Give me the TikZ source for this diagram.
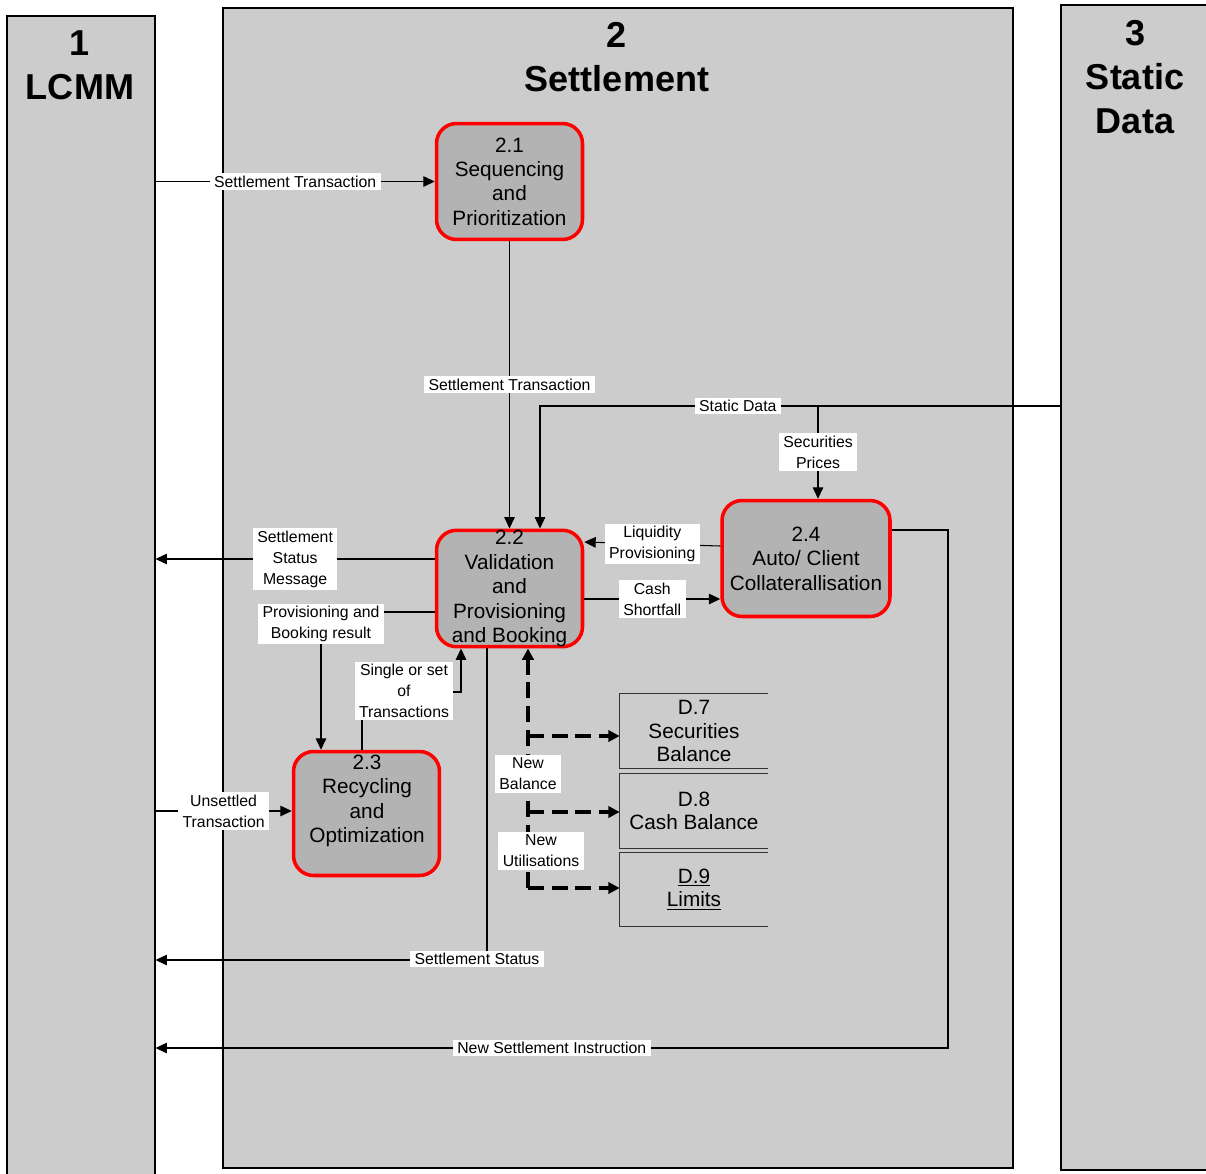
\documentclass[tikz,border=0pt]{standalone}
\usepackage{fontspec}
\setmainfont{Liberation Sans}
\usetikzlibrary{arrows.meta,fit}
\definecolor{lanegray}{HTML}{CCCCCC}
\definecolor{procgray}{HTML}{B3B3B3}
\tikzset{
 lane/.style={draw=black,fill=lanegray,line width=0.6pt,inner sep=0pt},
 lanetitle/.style={font=\fontsize{20.5}{25}\selectfont\bfseries,align=center},
 proc/.style={draw=red,fill=procgray,line width=2pt,rounded corners=0.4cm,inner sep=0pt,
  minimum width=2.92cm,minimum height=2.32cm,align=center,font=\fontsize{11.8}{13.9}\selectfont},
 proctext/.style={align=center,font=\fontsize{11.8}{13.9}\selectfont},
 store/.style={minimum width=2.96cm,minimum height=1.48cm,inner sep=0pt,align=center,font=\fontsize{11.8}{13.4}\selectfont},
 storeline/.style={draw=black!80,line width=0.6pt},
 lbl/.style={fill=white,inner xsep=2.5pt,inner ysep=1.5pt,align=center,font=\fontsize{9}{11.9}\selectfont},
 flow/.style={-{Triangle[length=6.5pt,width=6pt]},line width=0.6pt},
 newbal/.style={-{Triangle[length=6.5pt,width=6.5pt]},line width=2.3pt,dash pattern=on 9pt off 4.5pt}
}
\begin{document}
\begin{tikzpicture}[x=0.02cm,y=-0.02cm]
 \useasboundingbox (0,0) rectangle (1206,1173); %page
 \node[lane,fit={(7,16) (155,1190)}] (lcmm) {}; %lane 1
 \node[lane,fit={(223,8) (1013,1168)}] (settle) {}; %lane 2
 \node[lane,fit={(1061,5) (1215,1170)}] (static) {}; %lane 3
 \node[lanetitle] (lcmmt) at (80,65) {1\\LCMM};
 \node[lanetitle] (settlet) at (617,57) {2\\Settlement};
 \node[lanetitle] (statict) at (1135,77) {3\\Static\\Data};
 % processes
 \node[proc] (p21) at (509.5,181.5) {2.1\\Sequencing\\and\\Prioritization};
 \node[proc] (p22) at (509.5,588.5) {2.2\\Validation\\and\\Provisioning\\and Booking};
 \node[proc,minimum height=2.48cm] (p23) at (366.5,813.5) {};
 \node[proctext] (p23t) at (367,801) {2.3\\Recycling\\and\\Optimization};
 \node[proc,minimum width=3.36cm] (p24) at (806,558.5) {2.4\\Auto/ Client\\Collaterallisation};
 % data stores
 \node[store] (d7) at (694,731) {D.7\\Securities\\Balance};
 \node[store] (d8) at (694,811) {D.8\\Cash Balance};
 \node[store] (d9) at (694,889.5) {\underline{D.9}\\\underline{Limits}};
 \foreach \d in {d7,d8,d9}
  \draw[storeline] (\d.north east) -- (\d.north west) -- (\d.south west) -- (\d.south east); %open store
 % flows
 \draw[flow] (lcmm.east |- p21.west) -- node[lbl]{Settlement Transaction} (p21.west);
 \draw[flow] (p21) -- node[lbl]{Settlement Transaction} (p22);
 \coordinate (sdbend) at (540,406);
 \coordinate (spj) at (818,406);
 \draw[flow] (static.west |- sdbend) -- node[lbl,pos=0.62]{Static Data} (sdbend) -- (p22.north -| sdbend);
 \draw[flow] (spj) -- node[lbl]{Securities\\Prices} (p24.north -| spj);
 \draw[flow] (p22.west |- 0,559) -- node[lbl]{Settlement\\Status\\Message} (lcmm.east |- 0,559);
 \draw[flow] (p22.west |- 0,612) -| (p23.north -| 321,0);
 \node[lbl] (pbr) at (321,624) {Provisioning and\\Booking result};
 \draw[flow] (p23.north -| 362,0) |- (461,692) -- (p22.south -| 461,0);
 \node[lbl] (sst) at (404,691) {Single or set\\of\\Transactions};
 \draw[flow] (p22.east |- 0,599) -- node[lbl]{Cash\\Shortfall} (p24.west |- 0,599);
 \draw[flow] (p24.west |- 0,546) -- node[lbl]{Liquidity\\Provisioning} (p22.east |- 0,542);
 \draw[flow] (p24.east |- 0,530) -| (948,1048) -- node[lbl]{New Settlement Instruction} (lcmm.east |- 0,1048);
 \draw[flow] (p22.south -| 487,0) |- (lcmm.east |- 0,960);
 \node[lbl] (sstat) at (477,959) {Settlement Status};
 \draw[flow] (lcmm.east |- 0,811) -- node[lbl]{Unsettled\\Transaction} (p23.west |- 0,811);
 % balances
 \draw[newbal] (528,888) -- (p22.south -| 528,0);
 \draw[newbal] (528,736) -- (d7.west |- 0,736);
 \draw[newbal] (528,812) -- (d8.west |- 0,812);
 \draw[newbal] (528,888) -- (d9.west |- 0,888);
 \node[lbl] (nbal) at (528,774) {New\\Balance};
 \node[lbl] (nutil) at (541,851) {New\\Utilisations};
\end{tikzpicture}
\end{document}
